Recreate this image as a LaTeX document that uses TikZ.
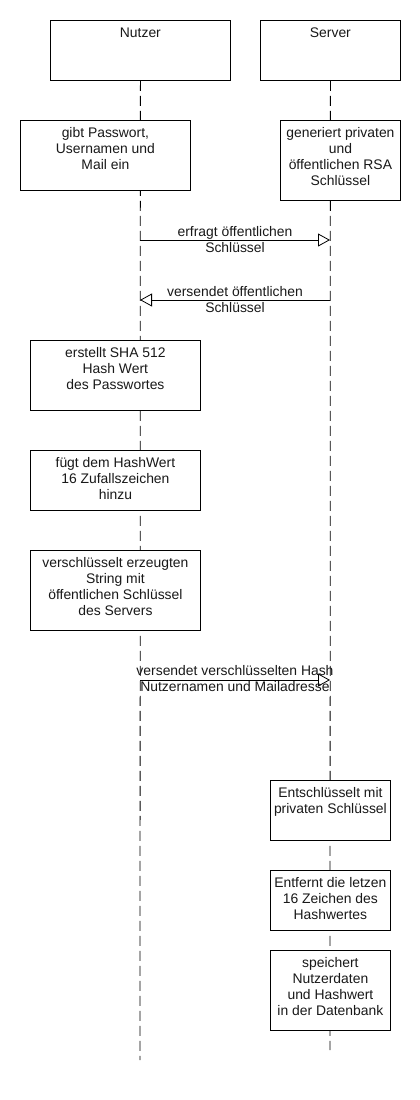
\documentclass[tikz,border=0pt]{standalone}
\usepackage{fontspec}
\setmainfont{Liberation Sans}
\usetikzlibrary{arrows.meta,calc}
\newcommand\fsz{\fontsize{13.9}{16}\selectfont}
\newcommand\tst{\rule{0pt}{11pt}}
\begin{document}
\begin{tikzpicture}[x=1pt,y=-1pt,
  box/.style={draw=black,line width=0.8pt,fill=white,inner sep=0pt,anchor=north west},
  txt/.style={inner sep=0pt,anchor=north,align=center,font=\fsz,text=black!90},
  life/.style={draw=black,line width=0.8pt,dash pattern=on 10pt off 5pt},
  msg/.style={draw=black,line width=0.8pt,-{Triangle[open,length=12pt,width=13pt]}},
  lbl/.style={inner sep=0pt,anchor=north,align=center,font=\fsz,text=black!90}]
\useasboundingbox[fill=white] (0,0) rectangle (420,1100);
% headers
\node[box,minimum width=180pt,minimum height=60pt] (nutzer) at (50,20) {};
\node[box,minimum width=140pt,minimum height=60pt] (server) at (260,20) {};
\node[txt] (tn) at ([yshift=-6.5pt]nutzer.north) {\tst Nutzer};
\node[txt] (ts) at ([yshift=-6.5pt]server.north) {\tst Server};
% lifelines
\coordinate (nEnd) at (140,1060);
\coordinate (sEnd) at (330,1050);
\draw[life] (nutzer.south) -- (nEnd);
\draw[life] (server.south) -- (sEnd);
% activity boxes
\node[box,minimum width=170pt,minimum height=70pt] (b1) at (20,120) {};
\node[txt] (t1) at ([yshift=-6.5pt]b1.north) {\tst gibt Passwort,\\Usernamen und\\Mail ein};
\node[box,minimum width=120pt,minimum height=80pt] (b2) at (280,120) {};
\node[txt] (t2) at ([yshift=-6.5pt]b2.north) {\tst generiert privaten\\und\\öffentlichen RSA\\Schlüssel};
\node[box,minimum width=170pt,minimum height=70pt] (b3) at (30,340) {};
\node[txt] (t3) at ([yshift=-6.5pt]b3.north) {\tst erstellt SHA 512\\Hash Wert\\des Passwortes};
\node[box,minimum width=170pt,minimum height=60pt] (b4) at (30,450) {};
\node[txt] (t4) at ([yshift=-6.5pt]b4.north) {\tst fügt dem HashWert\\16 Zufallszeichen\\hinzu};
\node[box,minimum width=170pt,minimum height=80pt] (b5) at (30,550) {};
\node[txt] (t5) at ([yshift=-6.5pt]b5.north) {\tst verschlüsselt erzeugten\\String mit\\öffentlichen Schlüssel\\des Servers};
\node[box,minimum width=120pt,minimum height=60pt] (b6) at (270,780) {};
\node[txt] (t6) at ([yshift=-6.5pt]b6.north) {\tst Entschlüsselt mit\\privaten Schlüssel};
\node[box,minimum width=120pt,minimum height=60pt] (b7) at (270,870) {};
\node[txt] (t7) at ([yshift=-6.5pt]b7.north) {\tst Entfernt die letzen\\16 Zeichen des\\Hashwertes};
\node[box,minimum width=120pt,minimum height=80pt] (b8) at (270,950) {};
\node[txt] (t8) at ([yshift=-6.5pt]b8.north) {\tst speichert\\Nutzerdaten\\und Hashwert\\in der Datenbank};
% messages
\coordinate (m1a) at (140,240); \coordinate (m1b) at (330,240);
\coordinate (m2a) at (330,300); \coordinate (m2b) at (140,300);
\coordinate (m3a) at (140,680); \coordinate (m3b) at (330,680);
\draw[msg] (m1a) -- (m1b);
\draw[msg] (m2a) -- (m2b);
\draw[msg] (m3a) -- (m3b);
\node[lbl] (l1) at ([yshift=14.5pt]$(m1a)!0.5!(m1b)$) {\tst erfragt öffentlichen\\Schlüssel};
\node[lbl] (l2) at ([yshift=15pt]$(m2a)!0.5!(m2b)$) {\tst versendet öffentlichen\\Schlüssel};
\node[lbl] (l3) at ([yshift=16pt]$(m3a)!0.5!(m3b)$) {\tst versendet verschlüsselten Hash\\Nutzernamen und Mailadresse};
\end{tikzpicture}
\end{document}
